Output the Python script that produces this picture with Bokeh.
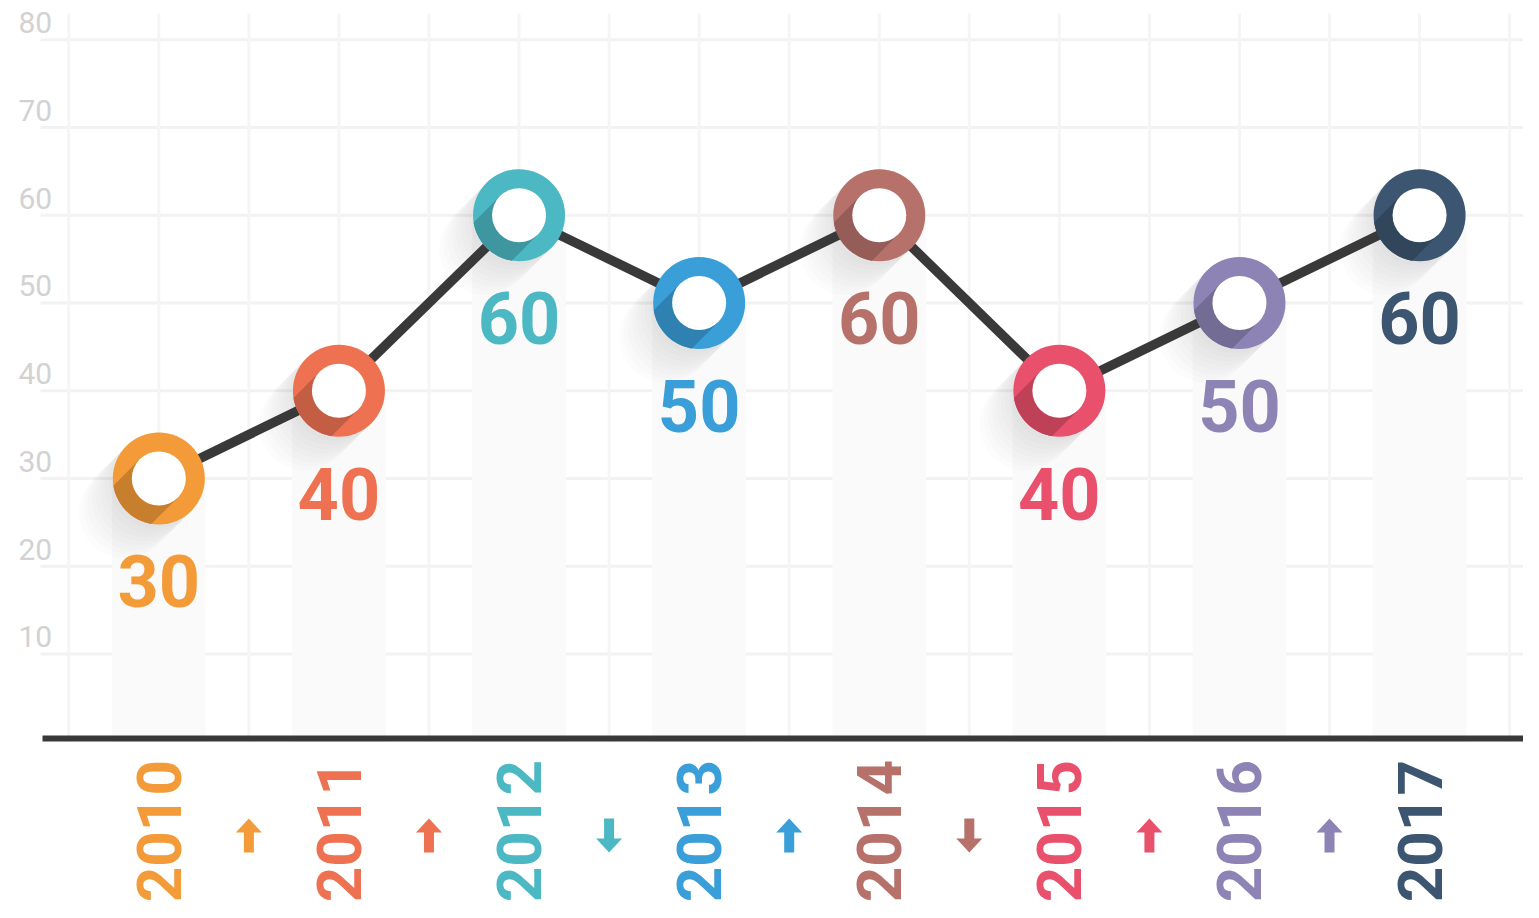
import math
from bokeh.plotting import figure
from bokeh.models import Range1d
from bokeh.core.properties import value
from bokeh.embed import file_html
from bokeh.resources import INLINE

# ---------------- data ----------------
years = ["2010", "2011", "2012", "2013", "2014", "2015", "2016", "2017"]
values = [30, 40, 60, 50, 60, 40, 50, 60]
colors = ["#F39B38", "#EE7252", "#4BB8C4", "#3A9ED8", "#B7716B", "#E9506C", "#8D84B5", "#3C5570"]
y_ticks = [10, 20, 30, 40, 50, 60, 70, 80]

# ---------------- layout ----------------
W, H = 1523, 902
X0, X1 = -0.879, 7.577
Y0, Y1 = -18.33, 84.47
SX = (X1 - X0) / W   # data units per pixel (x)
SY = (Y1 - Y0) / H   # data units per pixel (y)

FONT = "Roboto"
YEAR_Y = -10.2
ARROW_Y = -10.7
R_OUT, R_IN = 46, 27

xs = list(range(len(years)))


def darker(c, f=0.82):
    c = c.lstrip("#")
    r, g, b = (int(c[i:i + 2], 16) for i in (0, 2, 4))
    return "#%02x%02x%02x" % (int(r * f), int(g * f), int(b * f))


def arc(cx, cy, rad, a0, a1, n=24):
    pts = []
    for k in range(n + 1):
        a = math.radians(a0 + (a1 - a0) * k / n)
        pts.append((cx + rad * math.cos(a), cy + rad * math.sin(a)))
    return pts


def to_data(x, y, pts):
    return [x + px * SX for px, _ in pts], [y + py * SY for _, py in pts]


p = figure(width=W, height=H, x_range=Range1d(X0, X1), y_range=Range1d(Y0, Y1),
           output_backend="svg", toolbar_location=None, min_border=0,
           x_axis_type=None, y_axis_type=None)
p.outline_line_color = None
p.background_fill_color = "white"
p.border_fill_color = "white"

# grid lines
grid_x_left = X0 + 40 * SX
p.segment(x0=[grid_x_left] * len(y_ticks), x1=[X1] * len(y_ticks), y0=y_ticks, y1=y_ticks,
          line_color="#f2f2f2", line_width=3)
half_steps = [i / 2 for i in range(-1, 2 * len(years))]
p.segment(x0=half_steps, x1=half_steps, y0=[0] * len(half_steps), y1=[83] * len(half_steps),
          line_color="#f5f5f5", line_width=3)

# faint vertical bands under each point
p.vbar(x=xs, top=values, bottom=0, width=0.52, fill_color="#fafafa", line_color=None)

# y tick labels
p.text(x=[X0 + 18 * SX] * len(y_ticks), y=y_ticks, text=[str(t) for t in y_ticks],
       text_font=value("Roboto"), text_font_size="30px", text_color="#d2d2d2",
       text_align="left", text_baseline="middle", y_offset=-17)

# baseline
p.segment(x0=[X0 + 42 * SX], x1=[X1], y0=[0.35], y1=[0.35], line_color="#383838", line_width=6)

# outer long shadows (soft)
sh_xs, sh_ys, sh_alpha = [], [], []
for k in range(1, 9):
    L = 6 * k
    dx, dy = -L / math.sqrt(2), -L / math.sqrt(2)
    for x, v in zip(xs, values):
        pts = arc(0, 0, R_OUT, -45, 135) + arc(dx, dy, R_OUT, 135, 315)
        a, b = to_data(x, v, pts)
        sh_xs.append(a)
        sh_ys.append(b)
        sh_alpha.append(0.012)
p.patches(sh_xs, sh_ys, fill_color="#000000", fill_alpha=sh_alpha, line_color=None)

# connecting line
p.line(xs, values, line_color="#393939", line_width=9.5)

# rings
p.scatter(xs, values, size=2 * R_OUT, fill_color=colors, line_color=None)

# inner long shadow inside the ring
t = math.sqrt(R_OUT ** 2 - R_IN ** 2)
ang = math.degrees(math.atan2(R_IN, t))
in_xs, in_ys = [], []
for x, v in zip(xs, values):
    pts = [(R_IN * math.cos(math.radians(315)), R_IN * math.sin(math.radians(315)))]
    pts += arc(0, 0, R_OUT, 225 + ang, 225 - ang)
    pts += [(R_IN * math.cos(math.radians(135)), R_IN * math.sin(math.radians(135)))]
    a, b = to_data(x, v, pts)
    in_xs.append(a)
    in_ys.append(b)
p.patches(in_xs, in_ys, fill_color=[darker(c) for c in colors], line_color=None)

# holes
p.scatter(xs, values, size=2 * R_IN, fill_color="white", line_color=None)

# value labels
p.text(x=xs, y=values, text=[str(v) for v in values], text_color=colors,
       text_font=value(FONT), text_font_style="bold", text_font_size="72px",
       text_align="center", text_baseline="middle", y_offset=103)

# year labels (rotated)
p.text(x=xs, y=[YEAR_Y] * len(xs), text=years, text_color=colors,
       text_font=value(FONT), text_font_style="bold", text_font_size="62px",
       text_align="center", text_baseline="middle", angle=math.pi / 2)

# trend arrows between years
ar_xs, ar_ys, ar_cols = [], [], []
for i in range(len(values) - 1):
    up = values[i + 1] >= values[i]
    s = 1 if up else -1
    shape = [(0, 17), (13, 3), (5, 3), (5, -17), (-5, -17), (-5, 3), (-13, 3)]
    pts = [(px, s * py) for px, py in shape]
    a, b = to_data(xs[i] + 0.5, ARROW_Y, pts)
    ar_xs.append(a)
    ar_ys.append(b)
    ar_cols.append(colors[i])
p.patches(ar_xs, ar_ys, fill_color=ar_cols, line_color=None)

open("out.html", "w").write(file_html(p, INLINE))
